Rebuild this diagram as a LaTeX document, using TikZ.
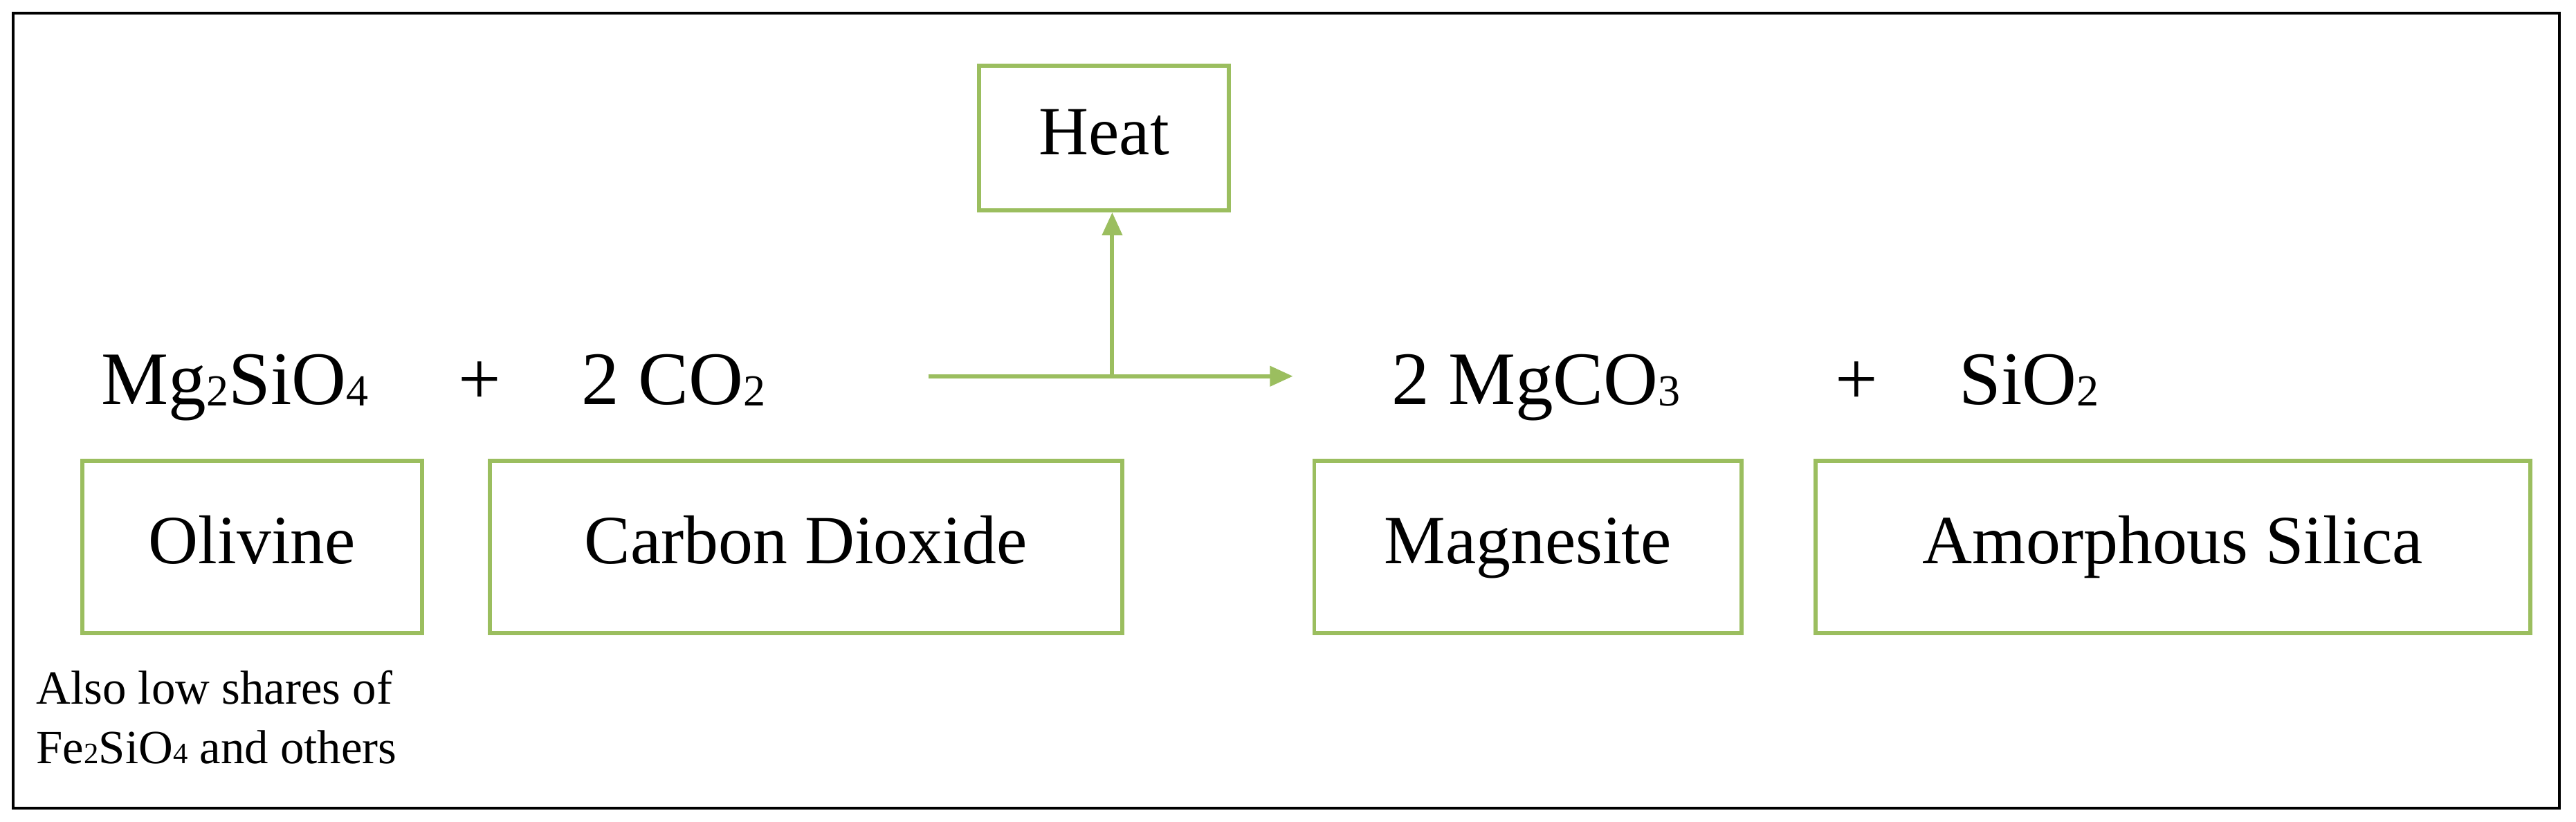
\documentclass[tikz,border=0pt]{standalone}
\usepackage{fontspec}
\setmainfont{Liberation Serif}
\usetikzlibrary{arrows.meta}
\definecolor{grn}{RGB}{155,190,95}
\newcommand{\sub}[1]{{\fontsize{27}{27}\selectfont\raisebox{-1pt}{#1}}}
\newcommand{\ssub}[1]{{\fontsize{18}{18}\selectfont #1}}
\begin{document}
\begin{tikzpicture}[x=1pt,y=-1pt,
  gbox/.style={draw=grn,line width=2.5pt,minimum height=105pt,inner sep=0pt,text height=29pt,text depth=9pt,font=\fontsize{42}{42}\selectfont},
  formula/.style={font=\fontsize{46}{46}\selectfont,anchor=base,inner sep=0pt},
  conn/.style={draw=grn,line width=2.5pt,-{Triangle[length=14pt,width=12pt]}}]
\useasboundingbox (0,0) rectangle (1568,500);
\draw[line width=1.6pt] (8,8) rectangle (1558,492);
\node[gbox,minimum width=152pt,minimum height=88pt] (heat) at (672,84) {Heat};
\node[formula] (mg) at (143,246) {Mg\sub{2}SiO\sub{4}};
\node[formula] (p1) at (292,246) {+};
\node[formula] (co) at (410,246) {2 CO\sub{2}};
\node[formula] (mgc) at (935,246) {2 MgCO\sub{3}};
\node[formula] (p2) at (1130,246) {+};
\node[formula] (si) at (1235,246) {SiO\sub{2}};
\node[gbox,minimum width=207pt] (oli) at (153.5,333) {Olivine};
\node[gbox,minimum width=385pt] (cd) at (490.5,333) {Carbon Dioxide};
\node[gbox,minimum width=260pt] (mag) at (930,333) {Magnesite};
\node[gbox,minimum width=435pt] (am) at (1322.5,333) {Amorphous Silica};
\coordinate (a0) at (565,229);
\coordinate (a1) at (787,229);
\coordinate (aj) at (677,229);
\draw[conn] (a0) -- (a1);
\draw[conn] (aj) -- (aj|-heat.south);
\node[anchor=north west,align=left,inner sep=0pt,font=\fontsize{29}{36}\selectfont] (note) at (22,408)
  {Also low shares of\\Fe\ssub{2}SiO\ssub{4} and others};
\end{tikzpicture}
\end{document}
